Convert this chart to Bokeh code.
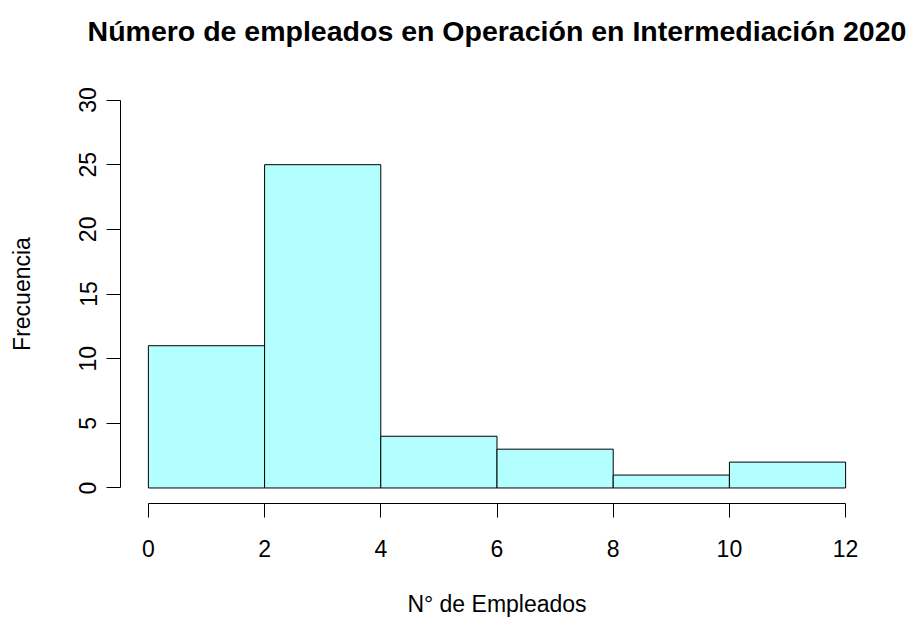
from bokeh.plotting import figure
from bokeh.models import Range1d, FixedTicker, ColumnDataSource
from bokeh.embed import file_html
from bokeh.resources import INLINE

# Data
bin_left = [0, 2, 4, 6, 8, 10]
bin_right = [2, 4, 6, 8, 10, 12]
counts = [11, 25, 4, 3, 1, 2]
x_ticks = [0, 2, 4, 6, 8, 10, 12]
y_ticks = [0, 5, 10, 15, 20, 25, 30]

FONT = "Liberation Sans"

src = ColumnDataSource(dict(left=bin_left, right=bin_right, top=counts,
                            bottom=[0] * len(counts)))

p = figure(width=911, height=619, output_backend="svg", toolbar_location=None,
           x_range=Range1d(-0.48, 12.48), y_range=Range1d(-1.2, 31.2),
           min_border_left=120, min_border_right=38, min_border_top=84,
           min_border_bottom=114)

p.quad(left="left", right="right", top="top", bottom="bottom", source=src,
       fill_color="#b3ffff", line_color="black", line_width=1)

p.title.text = "Número de empleados en Operación en Intermediación 2020\n "
p.title.align = "center"
p.title.vertical_align = "top"
p.title.text_font = FONT
p.title.text_font_size = "28.5px"
p.title.text_font_style = "bold"
p.title.text_color = "black"
p.title.standoff = 8

p.outline_line_color = None
p.grid.visible = False

for ax in (p.xaxis[0], p.yaxis[0]):
    ax.axis_line_color = "black"
    ax.major_tick_line_color = "black"
    ax.major_tick_out = 14
    ax.major_tick_in = 0
    ax.minor_tick_line_color = None
    ax.major_label_text_font = FONT
    ax.major_label_text_font_size = "23px"
    ax.major_label_text_color = "black"
    ax.axis_label_text_font = FONT
    ax.axis_label_text_font_size = "23px"
    ax.axis_label_text_font_style = "normal"
    ax.axis_label_text_color = "black"

p.xaxis.ticker = FixedTicker(ticks=x_ticks)
p.xaxis.bounds = (x_ticks[0], x_ticks[-1])
p.xaxis.axis_label = "N° de Empleados"
p.xaxis.major_label_standoff = 22
p.xaxis.axis_label_standoff = 31

p.yaxis.ticker = FixedTicker(ticks=y_ticks)
p.yaxis.bounds = (y_ticks[0], y_ticks[-1])
p.yaxis.axis_label = "Frecuencia"
p.yaxis.major_label_orientation = "vertical"
p.yaxis.major_label_standoff = 10
p.yaxis.axis_label_standoff = 42

open("out.html", "w").write(file_html(p, INLINE))
